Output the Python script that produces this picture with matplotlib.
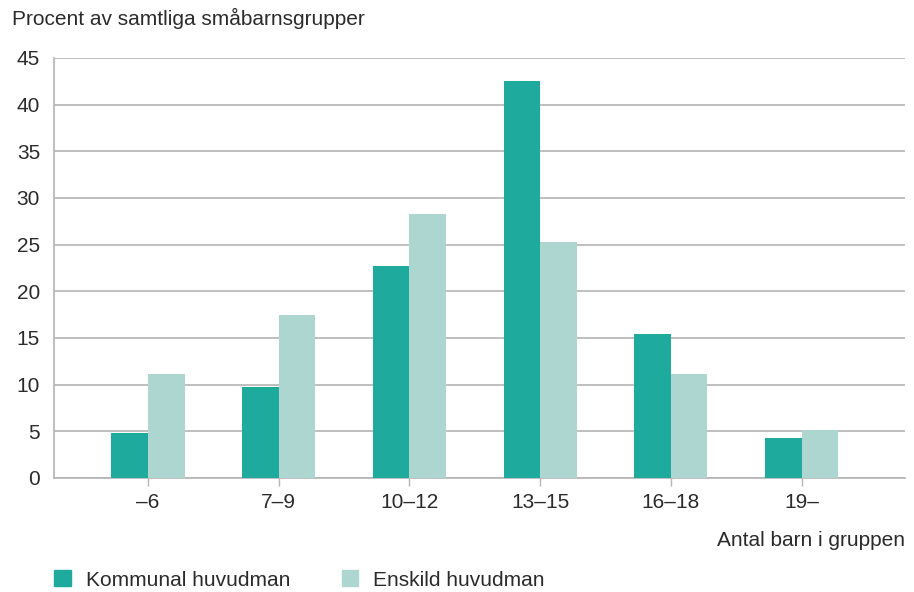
import numpy as np
import matplotlib.pyplot as plt
from matplotlib.patches import Patch

plt.rcParams['font.family'] = ['Liberation Sans', 'DejaVu Sans']

categories = ['\u20136', '7\u20139', '10\u201312', '13\u201315', '16\u201318', '19\u2013']
kommunal = [4.8, 9.7, 22.7, 42.5, 15.4, 4.3]
enskild = [11.1, 17.5, 28.3, 25.3, 11.1, 5.1]

c_komm = '#1EAB9D'
c_ensk = '#AED6D1'
txt = '#2b2b2b'
gridc = '#b4b4b4'
fs = 15

fig = plt.figure(figsize=(9.14, 5.92), dpi=100)
ax = fig.add_axes([0.059, 0.1926, 0.931, 0.7095])

x = np.arange(len(categories))
w = 0.28
ax.bar(x - w / 2, kommunal, w, color=c_komm, zorder=3)
ax.bar(x + w / 2, enskild, w, color=c_ensk, zorder=3)

ax.set_xlim(-0.72, 5.79)
ax.set_ylim(0, 45)
ax.set_yticks(range(0, 46, 5))
ax.set_xticks(x)
ax.set_xticklabels(categories)
ax.yaxis.grid(True, color=gridc, lw=1.2, zorder=0)
ax.tick_params(axis='y', length=0, pad=10, labelsize=fs, labelcolor=txt)
ax.tick_params(axis='x', length=6, width=1, color=gridc, direction='out', pad=5,
               labelsize=fs, labelcolor=txt)

for s in ['top', 'right']:
    ax.spines[s].set_visible(False)
for s in ['left', 'bottom']:
    ax.spines[s].set_color(gridc)
    ax.spines[s].set_linewidth(1.2)

fig.text(0.013, 1 - 18 / 592, 'Procent av samtliga småbarnsgrupper', fontsize=fs,
         color=txt, va='center', ha='left')
fig.text(0.990, 1 - 541 / 592, 'Antal barn i gruppen', fontsize=fs,
         color=txt, va='center', ha='right')

handles = [Patch(color=c_komm, label='Kommunal huvudman'),
           Patch(color=c_ensk, label='Enskild huvudman')]
fig.legend(handles=handles, loc='center left', bbox_to_anchor=(0.0505, 1 - 580 / 592),
           ncol=2, frameon=False, fontsize=fs, handlelength=0.78, handleheight=0.8,
           handletextpad=0.72, columnspacing=2.5, labelcolor=txt, borderaxespad=0)

fig.savefig('out.png', dpi=100)
